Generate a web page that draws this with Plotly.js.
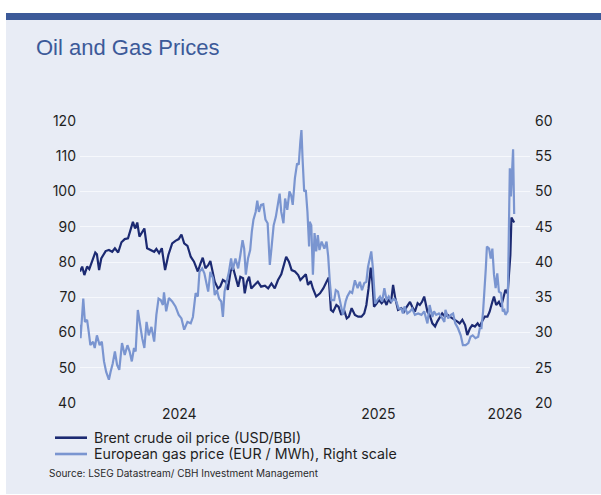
<!DOCTYPE html>
<html>
<head>
<meta charset="utf-8">
<script src="https://cdn.plot.ly/plotly-3.0.1.min.js"></script>
<style>
  html, body { margin: 0; padding: 0; background: #ffffff; }
  #wrap { position: relative; width: 601px; height: 495px; overflow: hidden; }
  #panel { position: absolute; left: 6px; top: 20px; width: 595px; height: 474px; background: #e8ecf5; }
  #bar { position: absolute; left: 6px; top: 13px; width: 595px; height: 7px; background: #3c5a99; }
  #chart { position: absolute; left: 0; top: 0; width: 601px; height: 495px; }
</style>
</head>
<body>
<div id="wrap">
  <div id="panel"></div>
  <div id="bar"></div>
  <div id="chart"></div>
</div>
<script>
// Brent crude oil price (USD/BBI), left scale
const brentDates = ["2024-01-01","2024-01-05","2024-01-09","2024-01-14","2024-01-18","2024-01-23","2024-01-29","2024-02-01","2024-02-05","2024-02-09","2024-02-17","2024-02-23","2024-02-29","2024-03-05","2024-03-11","2024-03-17","2024-03-23","2024-03-29","2024-04-03","2024-04-07","2024-04-11","2024-04-15","2024-04-19","2024-04-24","2024-04-28","2024-05-03","2024-05-09","2024-05-16","2024-05-20","2024-05-25","2024-05-30","2024-06-05","2024-06-11","2024-06-18","2024-06-24","2024-06-30","2024-07-05","2024-07-10","2024-07-16","2024-07-22","2024-07-28","2024-08-04","2024-08-09","2024-08-13","2024-08-18","2024-08-23","2024-08-27","2024-08-31","2024-09-04","2024-09-10","2024-09-14","2024-09-19","2024-09-24","2024-09-28","2024-10-03","2024-10-07","2024-10-12","2024-10-17","2024-10-21","2024-10-26","2024-10-29","2024-11-02","2024-11-06","2024-11-10","2024-11-16","2024-11-22","2024-11-28","2024-12-05","2024-12-11","2024-12-17","2024-12-23","2024-12-29","2025-01-04","2025-01-08","2025-01-13","2025-01-18","2025-01-23","2025-01-29","2025-02-04","2025-02-08","2025-02-13","2025-02-18","2025-02-22","2025-02-27","2025-03-03","2025-03-09","2025-03-16","2025-03-22","2025-03-28","2025-04-01","2025-04-05","2025-04-09","2025-04-15","2025-04-19","2025-04-24","2025-04-29","2025-05-04","2025-05-08","2025-05-13","2025-05-19","2025-05-25","2025-05-31","2025-06-05","2025-06-09","2025-06-13","2025-06-17","2025-06-20","2025-06-23","2025-06-28","2025-07-02","2025-07-07","2025-07-12","2025-07-16","2025-07-20","2025-07-24","2025-07-28","2025-08-01","2025-08-06","2025-08-12","2025-08-17","2025-08-22","2025-08-28","2025-09-01","2025-09-06","2025-09-11","2025-09-15","2025-09-19","2025-09-23","2025-09-29","2025-10-03","2025-10-08","2025-10-13","2025-10-17","2025-10-22","2025-10-26","2025-10-31","2025-11-05","2025-11-09","2025-11-13","2025-11-18","2025-11-23","2025-11-27","2025-12-02","2025-12-07","2025-12-11","2025-12-16","2025-12-20","2025-12-25","2025-12-30","2026-01-03","2026-01-07","2026-01-12","2026-01-17","2026-01-21","2026-01-26","2026-01-29","2026-02-02","2026-02-07","2026-02-11","2026-02-15","2026-02-19","2026-02-23","2026-02-26","2026-02-28","2026-03-02","2026-03-05","2026-03-07"];
const brentValues = [77.3,78.7,76.3,78.7,78.0,80.1,82.7,82.2,77.7,81.0,83.1,83.4,82.9,83.9,82.7,85.6,86.5,86.7,89.1,91.4,89.5,91.2,87.2,88.4,89.5,83.9,83.4,82.9,83.7,82.5,83.9,77.7,82.0,85.3,86.0,86.5,87.8,85.3,84.6,81.5,80.1,77.3,79.6,81.2,78.2,79.1,80.3,77.7,74.4,72.5,73.0,74.9,74.4,72.1,77.3,78.7,75.4,73.0,75.8,75.4,71.1,74.4,75.8,72.5,73.5,74.4,73.0,73.3,72.5,73.9,72.5,74.9,76.5,79.1,81.5,80.1,77.7,77.3,76.3,74.9,75.8,76.5,73.5,74.6,72.5,70.2,71.1,72.5,74.4,75.6,66.4,65.9,67.8,67.3,65.0,66.4,64.0,64.5,66.9,65.0,64.5,64.5,65.4,67.8,72.5,78.4,74.4,67.3,68.3,69.2,68.3,69.2,67.8,69.7,68.3,73.5,69.7,66.4,66.9,65.9,67.3,68.7,67.3,65.9,68.3,67.8,68.7,70.2,65.9,65.0,62.6,61.7,63.1,64.5,65.4,64.5,65.0,64.5,64.0,63.6,63.1,62.6,63.6,62.1,59.3,61.2,62.1,61.7,62.6,61.7,63.1,64.5,64.5,65.9,68.7,70.2,67.8,68.7,67.3,70.2,72.1,71.1,76.3,82.0,92.6,91.6,91.2];

// European gas price (EUR / MWh), right scale
const gasDates = ["2024-01-01","2024-01-02","2024-01-05","2024-01-07","2024-01-10","2024-01-14","2024-01-17","2024-01-20","2024-01-25","2024-01-28","2024-02-01","2024-02-06","2024-02-10","2024-02-14","2024-02-18","2024-02-23","2024-02-26","2024-03-01","2024-03-05","2024-03-09","2024-03-13","2024-03-18","2024-03-23","2024-03-28","2024-04-01","2024-04-05","2024-04-09","2024-04-12","2024-04-16","2024-04-19","2024-04-24","2024-04-28","2024-05-02","2024-05-06","2024-05-11","2024-05-16","2024-05-20","2024-05-24","2024-05-28","2024-06-01","2024-06-03","2024-06-07","2024-06-12","2024-06-18","2024-06-24","2024-06-30","2024-07-05","2024-07-10","2024-07-16","2024-07-22","2024-07-26","2024-07-31","2024-08-04","2024-08-07","2024-08-12","2024-08-16","2024-08-20","2024-08-23","2024-08-27","2024-09-01","2024-09-04","2024-09-08","2024-09-12","2024-09-16","2024-09-19","2024-09-22","2024-09-26","2024-09-30","2024-10-04","2024-10-07","2024-10-12","2024-10-17","2024-10-21","2024-10-25","2024-10-28","2024-10-31","2024-11-04","2024-11-08","2024-11-11","2024-11-14","2024-11-18","2024-11-21","2024-11-24","2024-11-28","2024-12-02","2024-12-06","2024-12-10","2024-12-14","2024-12-17","2024-12-21","2024-12-25","2024-12-29","2025-01-01","2025-01-04","2025-01-08","2025-01-11","2025-01-15","2025-01-19","2025-01-22","2025-01-25","2025-01-29","2025-02-02","2025-02-05","2025-02-08","2025-02-10","2025-02-12","2025-02-15","2025-02-18","2025-02-21","2025-02-24","2025-02-25","2025-02-28","2025-03-03","2025-03-06","2025-03-09","2025-03-12","2025-03-15","2025-03-19","2025-03-24","2025-03-28","2025-03-31","2025-04-03","2025-04-06","2025-04-11","2025-04-14","2025-04-18","2025-04-23","2025-04-27","2025-05-02","2025-05-05","2025-05-10","2025-05-14","2025-05-19","2025-05-24","2025-05-28","2025-06-01","2025-06-05","2025-06-09","2025-06-12","2025-06-15","2025-06-18","2025-06-21","2025-06-25","2025-06-29","2025-07-04","2025-07-08","2025-07-12","2025-07-16","2025-07-20","2025-07-25","2025-07-30","2025-08-03","2025-08-07","2025-08-12","2025-08-15","2025-08-18","2025-08-23","2025-08-28","2025-09-01","2025-09-06","2025-09-12","2025-09-18","2025-09-23","2025-09-29","2025-10-03","2025-10-08","2025-10-11","2025-10-15","2025-10-20","2025-10-25","2025-10-30","2025-11-01","2025-11-06","2025-11-11","2025-11-15","2025-11-19","2025-11-24","2025-11-29","2025-12-03","2025-12-08","2025-12-13","2025-12-17","2025-12-21","2025-12-26","2025-12-31","2026-01-03","2026-01-06","2026-01-09","2026-01-12","2026-01-14","2026-01-16","2026-01-20","2026-01-23","2026-01-26","2026-01-29","2026-02-01","2026-02-04","2026-02-07","2026-02-11","2026-02-14","2026-02-17","2026-02-19","2026-02-23","2026-02-25","2026-02-27","2026-03-01","2026-03-03","2026-03-05","2026-03-07"];
const gasValues = [31.1,29.2,32.5,34.8,31.5,31.8,30.1,28.2,28.7,27.8,29.6,28.2,28.7,25.9,24.4,23.3,24.4,25.6,27.3,25.4,24.7,28.5,26.8,28.2,27.3,25.9,27.8,27.3,33.2,31.5,29.2,27.8,31.5,29.6,30.8,28.7,32.5,34.8,34.6,33.9,35.7,33.0,34.9,34.4,33.7,32.5,32.0,30.4,31.5,31.3,32.2,35.6,35.1,38.6,39.1,38.4,36.7,35.8,38.6,37.7,35.3,36.0,34.8,34.4,32.2,35.8,37.2,38.6,40.5,38.9,40.5,39.1,41.0,43.1,41.9,38.2,40.5,41.7,44.3,46.0,47.1,48.7,47.1,48.1,48.2,46.0,45.5,39.6,41.9,45.2,46.4,48.6,49.7,47.1,45.5,49.0,47.4,50.0,49.5,48.1,51.9,54.0,53.8,57.1,58.7,54.7,50.0,50.2,47.1,42.2,45.7,45.2,38.2,44.1,41.5,43.8,41.7,42.9,41.9,42.9,40.8,37.2,34.6,34.6,36.0,35.8,33.9,32.5,34.4,35.1,35.8,35.6,37.4,36.3,37.2,36.0,37.0,37.2,39.3,40.5,41.5,39.1,34.1,34.6,35.1,34.4,36.3,34.6,35.1,34.4,34.8,34.4,33.4,33.4,32.7,33.7,32.7,33.0,33.4,32.5,32.7,32.5,33.0,31.3,33.9,32.2,33.0,32.5,32.7,32.2,31.5,33.2,32.0,32.5,32.7,31.3,30.6,29.6,28.2,28.2,28.5,29.4,29.6,29.2,29.4,30.6,30.6,33.0,36.0,39.1,42.2,41.9,40.5,41.9,38.2,36.3,38.4,35.8,35.6,33.0,33.2,32.5,33.0,46.7,53.3,49.3,53.0,56.0,46.8];

const xTickVals = ["2024-07-01","2025-07-01","2026-02-18"];
const xTickText = ["2024","2025","2026"];
const leftTicks = [40,50,60,70,80,90,100,110,120];
const rightTicks = [20,25,30,35,40,45,50,55,60];

const seriesNames = ["Brent crude oil price (USD/BBI)", "European gas price (EUR / MWh), Right scale"];
const seriesColors = ["#1c2a72", "#7a95d0"];
const sourceText = "Source: LSEG Datastream/ CBH Investment Management";

const tickFont = {family: "Inter, 'Noto Sans', sans-serif", size: 14, color: "#1f1f1f"};

const traces = [
  {
    x: gasDates, y: gasValues, name: seriesNames[1], yaxis: "y2",
    type: "scatter", mode: "lines",
    line: {color: seriesColors[1], width: 2.2},
    showlegend: false, hoverinfo: "skip"
  },
  {
    x: brentDates, y: brentValues, name: seriesNames[0], yaxis: "y",
    type: "scatter", mode: "lines",
    line: {color: seriesColors[0], width: 2.2},
    showlegend: false, hoverinfo: "skip"
  }
];

// plot area in pixels: x 80..530, y 121..403
const px = v => (v - 80) / 450;
const py = v => (403 - v) / 282;

const legendRows = [437.7, 454];
const shapes = seriesNames.map((n, i) => ({
  type: "line", xref: "paper", yref: "paper",
  x0: px(55), x1: px(87), y0: py(legendRows[i]), y1: py(legendRows[i]),
  line: {color: seriesColors[i], width: 2.6}
}));
const annotations = seriesNames.map((n, i) => ({
  text: n, xref: "paper", yref: "paper",
  x: px(92), xanchor: "left", y: py(legendRows[i]), yanchor: "middle",
  showarrow: false,
  font: {family: "Inter, 'Noto Sans', sans-serif", size: 14.2, color: "#1f1f1f"}
}));
annotations.push({
  text: sourceText, xref: "paper", yref: "paper",
  x: px(47), xanchor: "left", y: py(473.3), yanchor: "middle",
  showarrow: false,
  font: {family: "Inter, 'Noto Sans', sans-serif", size: 10, color: "#2a2a2a"}
});

const layout = {
  width: 601, height: 495,
  paper_bgcolor: "rgba(0,0,0,0)",
  plot_bgcolor: "rgba(0,0,0,0)",
  margin: {l: 80, r: 71, t: 121, b: 92, autoexpand: false},
  title: {
    text: "Oil and Gas Prices",
    font: {family: "'Liberation Sans', Arial, sans-serif", size: 22, color: "#3c5a99"},
    xref: "container", yref: "container",
    x: 36/601, xanchor: "left",
    y: 1 - 47/495, yanchor: "middle"
  },
  xaxis: {
    type: "date",
    range: ["2024-01-01", "2026-04-05"],
    tickvals: xTickVals, ticktext: xTickText,
    ticks: "", showgrid: false, zeroline: false, showline: false,
    tickfont: tickFont, automargin: false, ticklabelstandoff: 1
  },
  yaxis: {
    range: [40, 120], tickvals: leftTicks,
    showgrid: true, gridcolor: "#f6f8fc", gridwidth: 1,
    zeroline: false, showline: false, ticks: "",
    tickfont: tickFont, automargin: false, ticklabelstandoff: 3
  },
  yaxis2: {
    range: [20, 60], tickvals: rightTicks,
    overlaying: "y", side: "right",
    showgrid: false, zeroline: false, showline: false, ticks: "",
    tickfont: tickFont, automargin: false, ticklabelstandoff: 4
  },
  showlegend: false,
  shapes: shapes,
  annotations: annotations
};

Plotly.newPlot("chart", traces, layout, {displayModeBar: false, staticPlot: true});
</script>
</body>
</html>
